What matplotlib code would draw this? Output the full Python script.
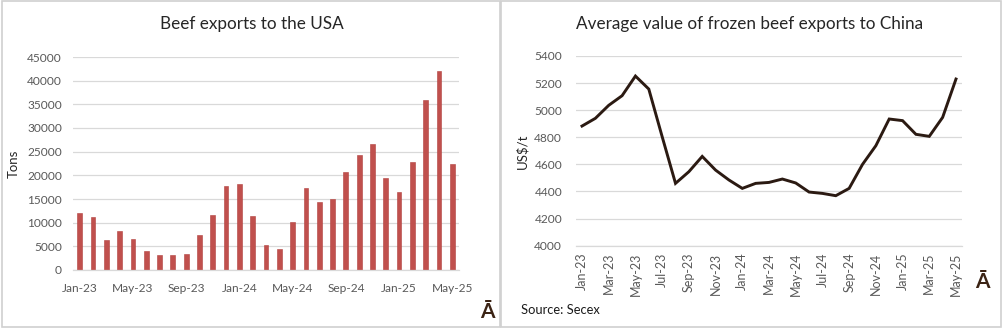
import matplotlib.pyplot as plt
from matplotlib.patches import Rectangle

plt.rcParams['font.family'] = ['Lato', 'DejaVu Sans']

# monthly labels Jan-23 .. May-25
months = ['Jan-23', 'Feb-23', 'Mar-23', 'Apr-23', 'May-23', 'Jun-23', 'Jul-23', 'Aug-23',
          'Sep-23', 'Oct-23', 'Nov-23', 'Dec-23', 'Jan-24', 'Feb-24', 'Mar-24', 'Apr-24',
          'May-24', 'Jun-24', 'Jul-24', 'Aug-24', 'Sep-24', 'Oct-24', 'Nov-24', 'Dec-24',
          'Jan-25', 'Feb-25', 'Mar-25', 'Apr-25', 'May-25']

# beef exports to the USA, tons
usa_tons = [12000, 11300, 6350, 8300, 6650, 3950, 3200, 3200, 3400, 7350, 11600, 17850,
            18150, 11450, 5350, 4350, 10050, 17350, 14450, 14950, 20750, 24200, 26600, 19500,
            16450, 22850, 35850, 42050, 22350]

# average value of frozen beef exports to China, US$/t
china_usd_t = [4883, 4940, 5036, 5107, 5252, 5156, 4805, 4460, 4546, 4659, 4558, 4485,
               4423, 4460, 4467, 4492, 4463, 4396, 4386, 4369, 4423, 4600, 4738, 4935,
               4923, 4822, 4807, 4947, 5230]

W, H = 1002, 329
fig = plt.figure(figsize=(W / 100, H / 100), dpi=100)

tick_col = '#595959'
grid_col = '#d9d9d9'
title_col = '#262626'
logo_col = '#3b2314'

# panel frames
for x0, x1 in [(1.5, 499.5), (500.5, 1000.5)]:
    fig.patches.append(Rectangle((x0 / W, 1 - 327 / H), (x1 - x0) / W, 326 / H,
                                 transform=fig.transFigure, fill=False,
                                 edgecolor='#d0d0d0', linewidth=1.2))


def style_axes(ax):
    for s in ['top', 'right', 'left']:
        ax.spines[s].set_visible(False)
    ax.spines['bottom'].set_color(grid_col)
    ax.spines['bottom'].set_linewidth(0.9)
    ax.grid(axis='y', color=grid_col, linewidth=0.9)
    ax.set_axisbelow(True)
    ax.tick_params(length=0, labelsize=8.6, colors=tick_col)


x = list(range(len(months)))

# left: bars
ax1 = fig.add_axes([73 / W, 1 - 270 / H, 386 / W, 213 / H])
ax1.bar(x, usa_tons, width=0.36, color='#c0504d', edgecolor='#b2403d', linewidth=0.4)
ax1.set_xlim(-0.5, len(months) - 0.5)
ax1.set_ylim(0, 45000)
ax1.set_yticks(range(0, 45001, 5000))
ax1.set_xticks(x[::4])
ax1.set_xticklabels(months[::4])
style_axes(ax1)
ax1.tick_params(axis='x', pad=9)
ax1.tick_params(axis='y', pad=8)
ax1.set_ylabel('Tons', fontsize=9.5, color=title_col, labelpad=5)
fig.text(252 / W, 1 - 24 / H, 'Beef exports to the USA', ha='center', va='center',
         fontsize=12.3, color=title_col)

# right: line
ax2 = fig.add_axes([576 / W, 1 - 245.7 / H, 386 / W, 189.7 / H])
ax2.plot(x, china_usd_t, color='#2b1a12', linewidth=2.1, solid_joinstyle='miter')
ax2.set_xlim(-0.45, len(months) - 0.55)
ax2.set_ylim(4000, 5400)
ax2.set_yticks(range(4000, 5401, 200))
ax2.set_xticks(x[::2])
ax2.set_xticklabels(months[::2], rotation=90)
style_axes(ax2)
ax2.tick_params(axis='x', pad=5, labelsize=9)
ax2.tick_params(axis='y', pad=10)
ax2.set_ylabel('US$/t', fontsize=9.5, color=title_col, labelpad=4)
fig.text(750 / W, 1 - 24 / H, 'Average value of frozen beef exports to China',
         ha='center', va='center', fontsize=12.3, color=title_col)

fig.text(521 / W, 1 - 310 / H, 'Source: Secex', ha='left', va='center',
         fontsize=9.3, color='#1a1a1a')

# logo marks
fig.text(487 / W, 1 - 312 / H, 'Ā', ha='center', va='center', fontsize=15,
         fontweight='bold', color=logo_col, fontstretch='condensed')
fig.text(982 / W, 1 - 282 / H, 'Ā', ha='center', va='center', fontsize=15,
         fontweight='bold', color=logo_col, fontstretch='condensed')

fig.savefig('out.png', dpi=100)
